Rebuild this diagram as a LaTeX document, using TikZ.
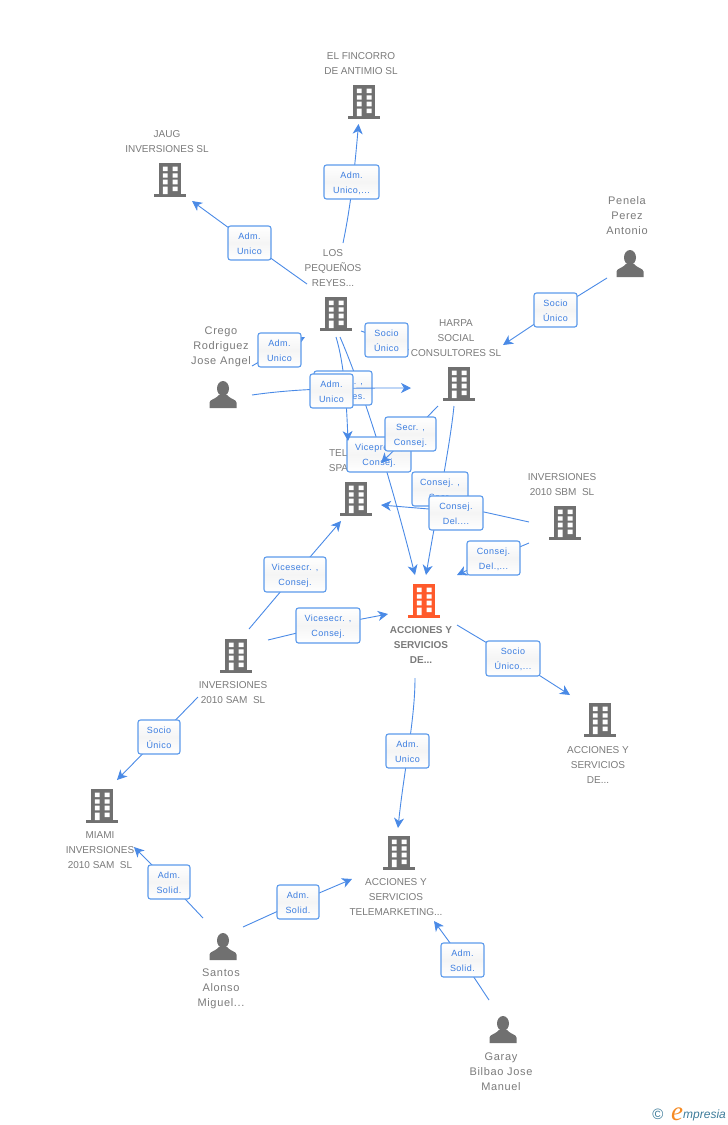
\documentclass[tikz,border=0pt]{standalone}
\usepackage{fontspec}
\setmainfont{Liberation Sans}
\newfontfamily\boxfont[LetterSpace=5.5]{Liberation Sans}
\newfontfamily\personfont[LetterSpace=6]{Liberation Sans}
\newfontfamily\logoserif{Liberation Serif}
\usetikzlibrary{arrows.meta}
\definecolor{linkblue}{HTML}{4A8AE6}
\definecolor{boxblue}{HTML}{5C9AEB}
\definecolor{textblue}{HTML}{3B7DE0}
\definecolor{labelgray}{HTML}{7A7A7A}
\definecolor{icongray}{HTML}{707070}
\definecolor{mainorange}{HTML}{FF5A2B}
\definecolor{logoteal}{HTML}{3E7C9A}
\definecolor{logoorange}{HTML}{F58A23}
\tikzset{
  conn/.style={draw=linkblue,line width=0.9pt,-{Stealth[length=10pt,width=10pt,inset=3pt]}},
  lab/.style={draw=boxblue,line width=1.1pt,rounded corners=2.5pt,top color=white,bottom color=white,middle color=white!96!black,
     inner sep=0pt,align=center,text=textblue,text height=28.4pt,text depth=5.6pt,font=\boxfont\fontsize{9}{15}\selectfont},
  txt/.style={inner sep=0pt,align=center,text=labelgray,font=\fontsize{10}{15}\selectfont},
  ptxt/.style={txt,font=\personfont\fontsize{11}{15}\selectfont},
  bldg/.pic={
    \fill[#1] (-11,0) rectangle (11,31);
    \fill[#1] (-16,31) rectangle (16,34);
    \fill[white] (-7.2,3.7) rectangle (-2.5,8) (2.5,3.7) rectangle (7.5,8)
       (-7.2,10.3) rectangle (-2.5,14.7) (2.5,10.3) rectangle (7.5,14.7)
       (-7.2,16.7) rectangle (-2.5,21.3) (2.5,16.7) rectangle (7.5,21.3)
       (-7.2,23.5) rectangle (-2.5,31) (2.5,23.5) rectangle (7.5,28);
  },
  person/.pic={
    \fill[icongray] (0,7.5) ellipse (6 and 7.5);
    \fill[icongray] (-13.5,27) -- (-13.5,21.5) .. controls (-13.5,18.5) and (-7,18) .. (-4,14)
       -- (4,14) .. controls (7,18) and (13.5,18.5) .. (13.5,21.5) -- (13.5,27) -- cycle;
  }
}
\begin{document}
\begin{tikzpicture}[x=1pt,y=-1pt]
\useasboundingbox (0,0) rectangle (728,1125);
% icons
\pic at (364,85) {bldg=icongray};
\pic at (170,163) {bldg=icongray};
\pic at (336,297) {bldg=icongray};
\pic at (459,367) {bldg=icongray};
\pic at (356,482) {bldg=icongray};
\pic at (565,506) {bldg=icongray};
\pic at (236,639) {bldg=icongray};
\pic at (424,584) {bldg=mainorange};
\pic at (600,703) {bldg=icongray};
\pic at (102,789) {bldg=icongray};
\pic at (399,836) {bldg=icongray};
\pic at (630,250) {person};
\pic at (223,381) {person};
\pic at (223,933) {person};
\pic at (503,1016) {person};
% labels
\node[txt] (tfin) at (361,64) {EL FINCORRO\\DE ANTIMIO SL};
\node[txt] (tjaug) at (167,142) {JAUG\\INVERSIONES SL};
\node[txt] (tlos) at (333,268.5) {LOS\\PEQUEÑOS\\REYES...};
\node[txt] (tharpa) at (456,338.5) {HARPA\\SOCIAL\\CONSULTORES SL};
\node[ptxt] (tpen) at (627,216) {Penela\\Perez\\Antonio};
\node[ptxt] (tcre) at (221,347) {Crego\\Rodriguez\\Jose Angel};
\node[txt] (ttele) at (356,460.5) {TELEMARK\\SPAIN 2010};
\node[txt] (tsbm) at (562,485) {INVERSIONES\\2010 SBM\ \ SL};
\node[txt] (tsam) at (233,693) {INVERSIONES\\2010 SAM\ \ SL};
\node[txt,font=\bfseries\fontsize{10}{15}\selectfont] (tacc) at (421,644.5) {ACCIONES Y\\SERVICIOS\\DE...};
\node[txt] (tacr) at (598,764.5) {ACCIONES Y\\SERVICIOS\\DE...};
\node[txt] (tmia) at (100,850.5) {MIAMI\\INVERSIONES\\2010 SAM\ \ SL};
\node[txt] (ttm) at (396,897.5) {ACCIONES Y\\SERVICIOS\\TELEMARKETING...};
\node[ptxt] (tsan) at (221,989) {Santos\\Alonso\\Miguel...};
\node[ptxt] (tgar) at (501,1072) {Garay\\Bilbao Jose\\Manuel};
% free ends of connectors
\coordinate (a1) at (343,243); \coordinate (e1) at (358.5,124);
\coordinate (a2) at (307,284); \coordinate (e2) at (192,201);
\coordinate (a3) at (607,278); \coordinate (e3) at (503,345);
\coordinate (a4) at (361,331); \coordinate (e4) at (409,350);
\coordinate (a5) at (252,366); \coordinate (e5) at (305,337);
\coordinate (a6) at (252,395); \coordinate (e6) at (411,388);
\coordinate (a7) at (336,337); \coordinate (e7) at (348,441);
\coordinate (a8) at (340,337); \coordinate (e8) at (415,575);
\coordinate (a9) at (438,406); \coordinate (e9) at (381,463);
\coordinate (a10) at (454,406); \coordinate (e10) at (426,575);
\coordinate (a11) at (529,522); \coordinate (e11) at (381,505);
\coordinate (a12) at (529,543); \coordinate (e12) at (457,575);
\coordinate (a13) at (249,629); \coordinate (e13) at (341,521);
\coordinate (a14) at (268,640); \coordinate (e14) at (388,614);
\coordinate (a15) at (457,625); \coordinate (e15) at (570,695);
\coordinate (a16) at (415,678); \coordinate (e16) at (398,828);
\coordinate (a17) at (198,697); \coordinate (e17) at (117,780);
\coordinate (a18) at (203,918); \coordinate (e18) at (134,847);
\coordinate (a19) at (243,927); \coordinate (e19) at (352,879);
\coordinate (a20) at (489,1000); \coordinate (e20) at (434,921);
% connectors and their boxes, in stacking order
\coordinate (b1) at (351.5,182);
\draw[conn] (a1) .. controls (351,205) and (355,165) .. (e1);
\node[lab,minimum width=55pt,minimum height=34pt] at (b1) {Adm.\\Unico,...};
\coordinate (b2) at (249.5,243);
\draw[conn] (a2) -- (b2) -- (e2);
\node[lab,minimum width=43pt,minimum height=34pt] at (b2) {Adm.\\Unico};
\coordinate (b3) at (555.5,310);
\draw[conn] (a3) -- (b3) -- (e3);
\node[lab,minimum width=43pt,minimum height=34pt] at (b3) {Socio\\Único};
\coordinate (b4) at (386.5,340);
\draw[conn] (a4) -- (b4) -- (e4);
\node[lab,minimum width=43pt,minimum height=34pt] at (b4) {Socio\\Único};
\coordinate (b5) at (279.5,350);
\draw[conn] (a5) -- (b5) -- (e5);
\node[lab,minimum width=43pt,minimum height=34pt] at (b5) {Adm.\\Unico};
% Los Pequeños -> Acciones, with the Vicepres. box
\draw[conn] (a8) .. controls (350,360) and (378,430) .. (e8);
\node[lab,minimum width=64pt,minimum height=35pt] (b8) at (379,454.5) {Vicepres. ,\\Consej.};
% Los Pequeños -> Tele, with the box hidden behind Adm. Unico
\draw[conn] (a7) .. controls (343,360) and (346,390) .. (e7);
\node[lab,minimum width=58pt,minimum height=34pt] (b7) at (343,388) {Consej. ,\\Apoderes.};
% Crego -> Harpa
\coordinate (b6) at (331.5,391);
\draw[conn] (a6) .. controls (300,388) and (350,388) .. (e6);
\node[lab,minimum width=43pt,minimum height=34pt] at (b6) {Adm.\\Unico};
% Harpa -> Tele
\coordinate (b9) at (410.5,434);
\draw[conn] (a9) -- (b9) -- (e9);
\node[lab,minimum width=51pt,minimum height=34pt] at (b9) {Secr. ,\\Consej.};
% Harpa -> Acciones
\draw[conn] (a10) .. controls (450,445) and (438,505) .. (e10);
\node[lab,minimum width=56pt,minimum height=34pt] (b10) at (440,489) {Consej. ,\\Secr.};
% SBM -> Tele
\coordinate (b11) at (456,513);
\draw[conn] (a11) -- (484,512) -- (429,509) -- (e11);
\node[lab,minimum width=54pt,minimum height=34pt] at (b11) {Consej.\\Del....};
% SBM -> Acciones
\coordinate (b12) at (493.5,558);
\draw[conn] (a12) -- (b12) -- (e12);
\node[lab,minimum width=53pt,minimum height=34pt] at (b12) {Consej.\\Del.,...};
% SAM
\coordinate (b13) at (295,574.5);
\draw[conn] (a13) -- (b13) -- (e13);
\node[lab,minimum width=62pt,minimum height=35pt] at (b13) {Vicesecr. ,\\Consej.};
\coordinate (b14) at (328,625.5);
\draw[conn] (a14) -- (b14) -- (e14);
\node[lab,minimum width=64pt,minimum height=35pt] at (b14) {Vicesecr. ,\\Consej.};
\coordinate (b15) at (513,658.5);
\draw[conn] (a15) -- (b15) -- (e15);
\node[lab,minimum width=54pt,minimum height=35pt] at (b15) {Socio\\Único,...};
\coordinate (b16) at (407.5,751);
\draw[conn] (a16) .. controls (415,720) and (404,770) .. (e16);
\node[lab,minimum width=43pt,minimum height=34pt] at (b16) {Adm.\\Unico};
\coordinate (b17) at (159,737);
\draw[conn] (a17) -- (b17) -- (e17);
\node[lab,minimum width=42pt,minimum height=34pt] at (b17) {Socio\\Único};
\coordinate (b18) at (169,882);
\draw[conn] (a18) -- (b18) -- (e18);
\node[lab,minimum width=42pt,minimum height=34pt] at (b18) {Adm.\\Solid.};
\coordinate (b19) at (298,902);
\draw[conn] (a19) -- (b19) -- (e19);
\node[lab,minimum width=42pt,minimum height=34pt] at (b19) {Adm.\\Solid.};
\coordinate (b20) at (462.5,960);
\draw[conn] (a20) -- (b20) -- (e20);
\node[lab,minimum width=43pt,minimum height=34pt] at (b20) {Adm.\\Solid.};
% logo
\node[inner sep=0pt,text=logoteal] (lc) at (658,1114) {\fontsize{15}{15}\selectfont ©};
\node[inner sep=0pt,anchor=base west,text=logoorange] (le) at (671,1120) {\logoserif\itshape\fontsize{27}{27}\selectfont e};
\node[inner sep=0pt,anchor=base west,text=logoteal] (lm) at (683,1118) {\itshape\fontsize{12}{12}\selectfont mpresia};
\end{tikzpicture}
\end{document}
